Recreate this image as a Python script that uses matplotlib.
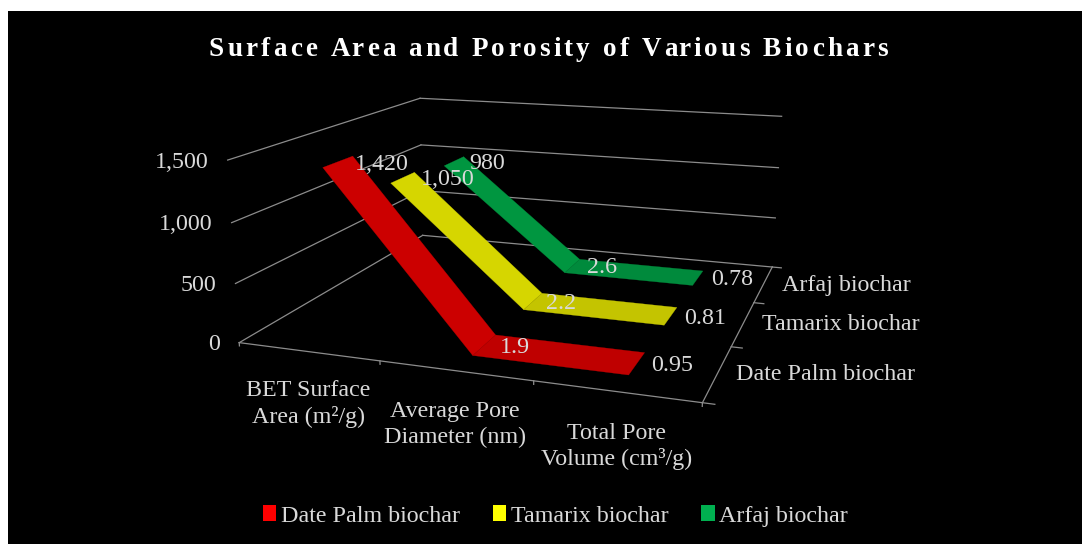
import numpy as np
import matplotlib
matplotlib.use("Agg")
import matplotlib.pyplot as plt
from matplotlib.patches import Patch, Rectangle
from matplotlib.text import Text
from mpl_toolkits.mplot3d import proj3d
from mpl_toolkits.mplot3d.art3d import Poly3DCollection

# ---------- data ----------
categories = ["BET Surface\nArea (m²/g)", "Average Pore\nDiameter (nm)", "Total Pore\nVolume (cm³/g)"]
series_names = ["Date Palm biochar", "Tamarix biochar", "Arfaj biochar"]
date_palm = [1420, 1.9, 0.95]
tamarix = [1050, 2.2, 0.81]
arfaj = [980, 2.6, 0.78]
value_labels = [["1,420", "1.9", "0.95"], ["1,050", "2.2", "0.81"], ["980", "2.6", "0.78"]]
z_ticks = [0, 500, 1000, 1500]
z_tick_labels = ["0", "500", "1,000", "1,500"]
title = "Surface Area and Porosity of Various Biochars"

W, H = 1082, 544
plt.rcParams["font.family"] = ["Liberation Serif", "DejaVu Serif"]
LABEL = "#D9D9D9"
GRID = "#8C8C8C"
FS = 17.25

fig = plt.figure(figsize=(W / 100, H / 100), dpi=100, facecolor="white")
fig.add_artist(Rectangle((8 / W, 0), (W - 8) / W, (H - 11) / H, transform=fig.transFigure,
                         facecolor="black", edgecolor="none", zorder=-10))
ax = fig.add_axes([0, 0, 1, 1], projection="3d", facecolor="none")
ax.set_proj_type("ortho")
ax.set_axis_off()
ax.computed_zorder = False
ax.apply_aspect = lambda position=None: None
ax.set_xlim(0, 3); ax.set_ylim(0, 3); ax.set_zlim(0, 1500)

# camera: fitted from the plot box corners (x, depth, z) -> screen pixel
box = [((0, 0, 0), (239.3, 342.7)), ((0, 0, 1500), (227.7, 160.0)),
       ((0, 3, 0), (422.7, 235.3)), ((0, 3, 1500), (420.0, 98.3)),
       ((3, 3, 0), (772.3, 267.0)), ((3, 3, 1500), (781.7, 116.3)),
       ((3, 0, 0), (702.3, 402.7))]
to_view = ax.transData.inverted()
rows = []
for (x, y, z), (px, py) in box:
    u, v = to_view.transform((px, H - py))
    X = [x / 3, y / 3, z / 1500, 1]
    rows.append([*X, 0, 0, 0, 0, *[-u * c for c in X]])
    rows.append([0, 0, 0, 0, *X, *[-v * c for c in X]])
P = np.linalg.svd(np.array(rows))[2][-1].reshape(3, 4)
P = P @ np.diag([1 / 3, 1 / 3, 1 / 1500, 1])
if P[2, 3] < 0:
    P = -P
M = np.vstack([P[0], P[1], [0, 0, 0, 1], P[2]])
ax.get_proj = lambda: M


def to2d(x, y, z):
    a, b, _ = proj3d.proj_transform(x, y, z, M)
    return float(a), float(b)


def label(txt, xyz, dx, dy, color=LABEL, ha="center", va="center", zorder=20, **kw):
    ax.annotate(txt, xy=to2d(*xyz), xycoords="data", xytext=(dx, -dy), textcoords="offset pixels",
                color=color, ha=ha, va=va, fontsize=FS, zorder=zorder, **kw)


def seg(p, q, **kw):
    ax.plot([p[0], q[0]], [p[1], q[1]], [p[2], q[2]], color=GRID, lw=0.9, zorder=1, **kw)


# walls and floor
for z in z_ticks:
    seg((0, 0, z), (0, 3, z))
    seg((0, 3, z), (3, 3, z))
seg((0, 0, 0), (3, 0, 0))
seg((3, 0, 0), (3, 3, 0))
for x in range(4):
    seg((x, 0, 0), (x, 0, -28))
for y in range(4):
    seg((3, y, 0), (3.07, y, 0))

for z, s in zip(z_ticks, z_tick_labels):
    label(s, (0, 0, z), -19.5, 2, ha="right")

# ribbons
series = [date_palm, tamarix, arfaj]
bright = ["#CC0000", "#D6D600", "#009640"]
dark = ["#BF0000", "#C4C400", "#008A3C"]
half = 0.21
for s, vals in enumerate(series):
    y0, y1 = s + 0.5 - half, s + 0.5 + half
    for i in range(2):
        quad = [(i + 0.5, y0, vals[i]), (i + 1.5, y0, vals[i + 1]),
                (i + 1.5, y1, vals[i + 1]), (i + 0.5, y1, vals[i])]
        c = bright[s] if i == 0 else dark[s]
        ax.add_collection3d(Poly3DCollection([quad], facecolors=c, edgecolors=c, linewidths=0.2,
                                             zorder=10 - s + (0.5 if i else 0)))

# value labels
offsets = [[(44, 3), (31, 3), (36, 2)], [(45, 2), (29, 3), (35, 3)], [(34, 3), (30, 2), (35, 2)]]
for s, vals in enumerate(series):
    for i, v in enumerate(vals):
        label(value_labels[s][i], (i + 0.5, s + 0.5, v), *offsets[s][i])

# category and series labels
cat_off = [(0, 52), (0, 54), (0, 55)]
for i, c in enumerate(categories):
    label(c, (i + 0.5, 0, 0), *cat_off[i], linespacing=1.29)
ser_pos = [(825.5, 375), (841, 325), (846, 286)]
for s, n in enumerate(series_names):
    a, b = to_view.transform((ser_pos[s][0], H - ser_pos[s][1]))
    ax.annotate(n, xy=(a, b), xycoords="data", color=LABEL, ha="center", va="center", fontsize=FS, zorder=20)


class SpacedText(Text):
    """One string, drawn with extra letter spacing."""
    spacing = 3.2

    def _parts(self, renderer):
        s = self.get_text()
        fp = self.get_fontproperties()
        pre = [renderer.get_text_width_height_descent(s[:i], fp, False)[0] + i * self.spacing for i in range(len(s) + 1)]
        return s, pre

    def get_window_extent(self, renderer=None, dpi=None):
        renderer = renderer or self.get_figure().canvas.get_renderer()
        s, pre = self._parts(renderer)
        box = super().get_window_extent(renderer, dpi)
        cx = self.get_transform().transform(self.get_position())[0]
        return matplotlib.transforms.Bbox([[cx - pre[-1] / 2, box.y0], [cx + pre[-1] / 2, box.y1]])

    def draw(self, renderer):
        s, pre = self._parts(renderer)
        cx, cy = self.get_transform().transform(self.get_position())
        for i, ch in enumerate(s):
            if ch == " ":
                continue
            t = Text(cx - pre[-1] / 2 + pre[i], cy, ch, color=self.get_color(), ha="left", va="baseline",
                     fontproperties=self.get_fontproperties())
            t.set_figure(self.get_figure())
            t.set_transform(matplotlib.transforms.IdentityTransform())
            t.draw(renderer)


t = SpacedText(550 / W, 1 - 56 / H, title, color="white", fontsize=19.5, fontweight="bold", ha="center",
               va="baseline", transform=fig.transFigure)
fig.add_artist(t)

handles = [Patch(facecolor=c, edgecolor="none") for c in ["#FF0000", "#FFFF00", "#00B050"]]
ax.legend(handles, series_names, loc="center", bbox_to_anchor=(555.5 / W, 1 - 516 / H), bbox_transform=fig.transFigure,
          ncol=3, frameon=False, fontsize=FS, labelcolor=LABEL, handlelength=0.55, handleheight=0.6,
          handletextpad=0.2, columnspacing=1.38)

fig.savefig("out.png", dpi=100, facecolor="white")
